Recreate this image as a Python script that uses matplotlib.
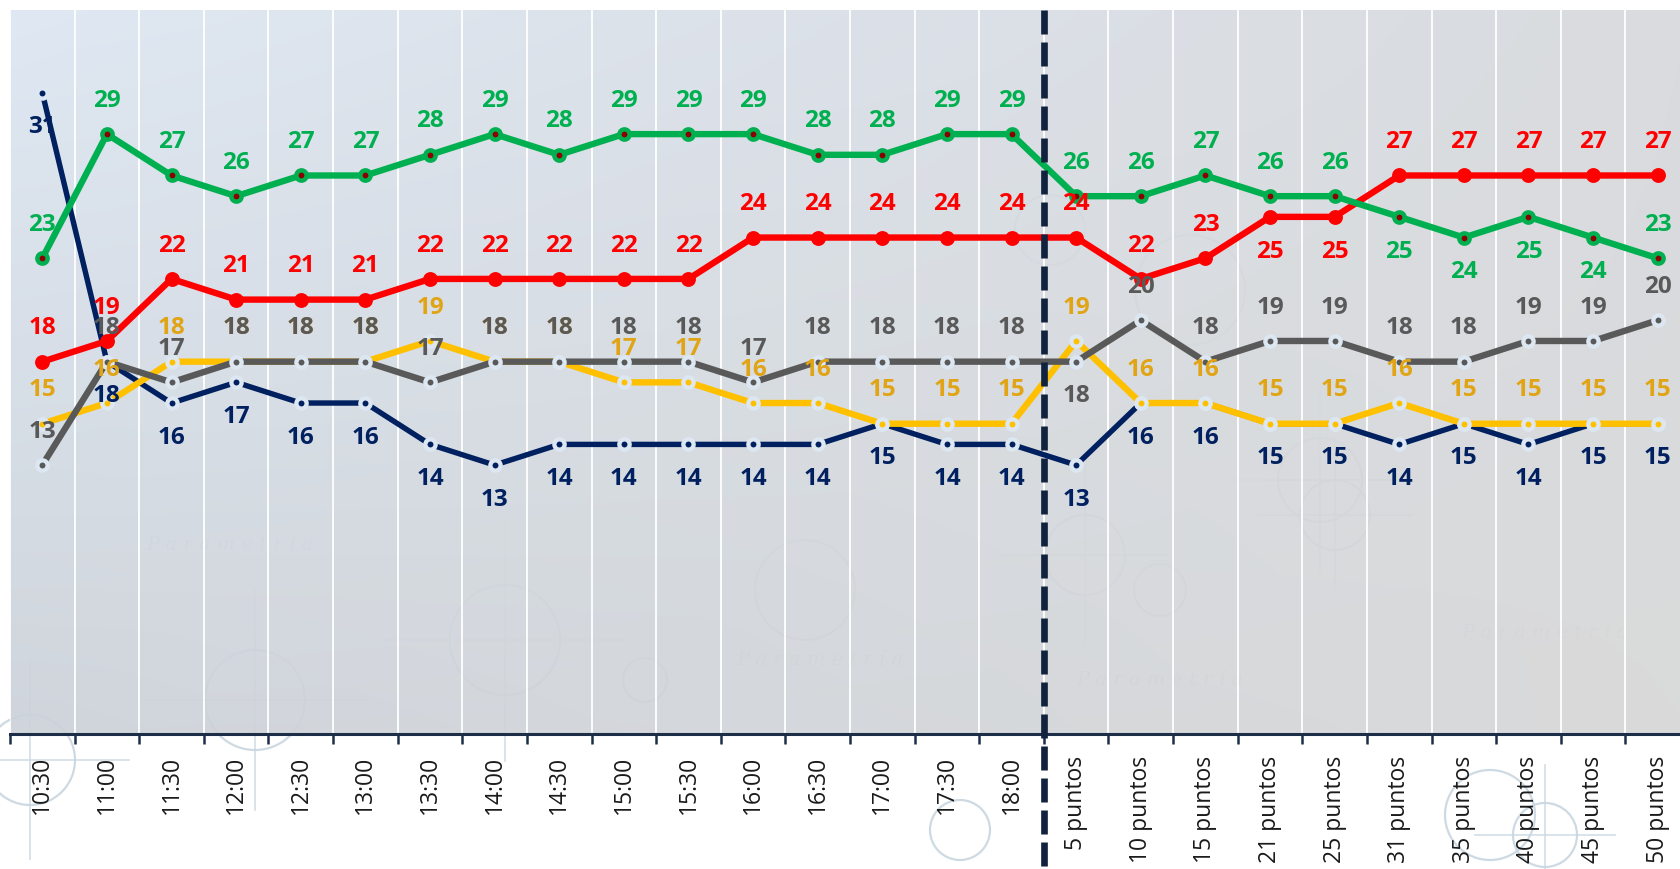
import numpy as np
import matplotlib
matplotlib.use("Agg")
import matplotlib.pyplot as plt
from matplotlib.patches import Circle
import matplotlib.transforms as mtransforms

# ---------------- data ----------------
categories = ["10:30", "11:00", "11:30", "12:00", "12:30", "13:00", "13:30", "14:00",
              "14:30", "15:00", "15:30", "16:00", "16:30", "17:00", "17:30", "18:00",
              "5 puntos", "10 puntos", "15 puntos", "21 puntos", "25 puntos",
              "31 puntos", "35 puntos", "40 puntos", "45 puntos", "50 puntos"]

green = [23, 29, 27, 26, 27, 27, 28, 29, 28, 29, 29, 29, 28, 28, 29, 29,
         26, 26, 27, 26, 26, 25, 24, 25, 24, 23]
red = [18, 19, 22, 21, 21, 21, 22, 22, 22, 22, 22, 24, 24, 24, 24, 24,
       24, 22, 23, 25, 25, 27, 27, 27, 27, 27]
gray = [13, 18, 17, 18, 18, 18, 17, 18, 18, 18, 18, 17, 18, 18, 18, 18,
        18, 20, 18, 19, 19, 18, 18, 19, 19, 20]
yellow = [15, 16, 18, 18, 18, 18, 19, 18, 18, 17, 17, 16, 16, 15, 15, 15,
          19, 16, 16, 15, 15, 16, 15, 15, 15, 15]
navy = [31, 18, 16, 17, 16, 16, 14, 13, 14, 14, 14, 14, 14, 15, 14, 14,
        13, 16, 16, 15, 15, 14, 15, 14, 15, 15]

# label below the point for these indices (all others above)
green_below = [21, 22, 23, 24]
red_below = [19, 20]
gray_below = [16]
yellow_below = []
navy_below = list(range(len(navy)))

divider_after = 15  # dashed separator between "18:00" and "5 puntos"

# ---------------- figure ----------------
W, H = 1680, 869
fig = plt.figure(figsize=(W / 100, H / 100), dpi=100)
fig.patch.set_facecolor("white")

# watermark background (decorative)
bg = fig.add_axes([0, 0, 1, 1], zorder=0)
bg.set_xlim(0, W)
bg.set_ylim(H, 0)
bg.axis("off")
wm_col = "#c9d6e0"
wm_texts = [(230, 545), (1160, 680), (1545, 633), (820, 660)]
for (tx, ty) in wm_texts:
    bg.text(tx, ty, "P a r a m e t r í a", family="DejaVu Serif", style="italic",
            fontsize=14, color=wm_col, ha="center", va="center", alpha=0.9)
wm_circles = [(505, 640, 55), (805, 590, 50), (1085, 555, 40), (1160, 590, 26),
              (1335, 515, 35), (1490, 815, 45), (1320, 480, 42), (1190, 290, 55),
              (255, 700, 50), (645, 680, 22), (30, 760, 45), (1050, 230, 35),
              (1545, 835, 32), (960, 830, 30)]
for (cx, cy, r) in wm_circles:
    bg.add_patch(Circle((cx, cy), r, fill=False, ec=wm_col, lw=1.6, alpha=0.9))
for (cx, cy, r) in wm_circles[::2]:
    bg.plot([cx - 2.2 * r, cx + 2.2 * r], [cy, cy], color=wm_col, lw=1.2, alpha=0.8)
    bg.plot([cx, cx], [cy - 2.2 * r, cy + 2.2 * r], color=wm_col, lw=1.2, alpha=0.8)

# main axes: left at x=10 px, top at y=10 px, bottom axis at y=734 px
left, top, bottom = 10, 10, 734
ax = fig.add_axes([left / W, (H - bottom) / H, 1.0, (bottom - top) / H], zorder=1)
ax.patch.set_alpha(0)

n = len(categories)
x = np.arange(n)
ax.set_xlim(-0.5, n - 0.5)
ax.set_ylim(0, 35)

# gradient plot area
gy, gx = np.mgrid[0:1:200j, 0:1:400j]
tl = np.array([220, 230, 242]) / 255
tr = np.array([214, 216, 220]) / 255
bl = np.array([204, 210, 217]) / 255
br = np.array([215, 215, 215]) / 255
grad = (tl[None, None, :] * ((1 - gx) * (1 - gy))[..., None]
        + tr[None, None, :] * (gx * (1 - gy))[..., None]
        + bl[None, None, :] * ((1 - gx) * gy)[..., None]
        + br[None, None, :] * (gx * gy)[..., None])
ax.imshow(grad, extent=(-0.5, n - 0.5, 0, 35), aspect="auto", zorder=0,
          alpha=0.92, interpolation="bilinear", origin="upper")

# vertical white grid at category boundaries
ax.set_xticks(np.arange(-0.5, n, 1.0))
ax.set_xticklabels([])
ax.set_xticks(x, minor=True)
ax.set_xticklabels(categories, minor=True, rotation=90, fontsize=16.5,
                   family="Open Sans", color="#1a1a1a")
ax.tick_params(axis="x", which="major", length=7, width=1.8, color="#1c2e48",
               direction="out")
ax.tick_params(axis="x", which="minor", length=0, pad=16)
ax.grid(axis="x", which="major", color="white", lw=1.3, zorder=1)
ax.set_yticks([])
for s in ["left", "right", "top"]:
    ax.spines[s].set_visible(False)
ax.spines["bottom"].set_color("#1c2e48")
ax.spines["bottom"].set_linewidth(2.2)

light = "#dde7f2"
series = [
    # values, line color, lw, marker face, marker edge, ms, mew, label color, below list
    (navy, "#002060", 3.9, "#002060", light, 7.4, 3.1, "#002060", navy_below),
    (yellow, "#FFC000", 4.6, "#FFC000", light, 7.4, 3.1, "#E0A415", yellow_below),
    (gray, "#595959", 4.6, "#595959", light, 7.4, 3.1, "#595959", gray_below),
    (red, "#FF0000", 4.6, "#FF0000", "#FF0000", 9.2, 1.5, "#FF0000", red_below),
    (green, "#00B050", 4.6, "#8B0000", "#00B050", 7.4, 3.2, "#00B050", green_below),
]

for z, (vals, lc, lw, mfc, mec, ms, mew, tc, below) in enumerate(series):
    ax.plot(x, vals, color=lc, lw=lw, marker="o", ms=ms, mfc=mfc, mec=mec,
            mew=mew, zorder=3 + z, solid_joinstyle="round", clip_on=False)

for z, (vals, lc, lw, mfc, mec, ms, mew, tc, below) in enumerate(series):
    for i, v in enumerate(vals):
        off = -25 if i in below else 24
        ax.annotate(str(v), (x[i], v), xytext=(0, off), textcoords="offset points",
                    ha="center", va="center", fontsize=17.5, fontweight="bold",
                    family="Open Sans", color=tc, zorder=10 + z)

# dashed separator running from the top of the plot to the bottom of the figure
trans = mtransforms.blended_transform_factory(ax.transData, fig.transFigure)
ax.plot([divider_after + 0.5, divider_after + 0.5], [(H - top) / H, 0.0],
        transform=trans, color="#10223d", lw=4.8, linestyle=(0, (3.6, 1.2)),
        clip_on=False, zorder=20, solid_capstyle="butt", dash_capstyle="butt")

fig.savefig("out.png", dpi=100)
